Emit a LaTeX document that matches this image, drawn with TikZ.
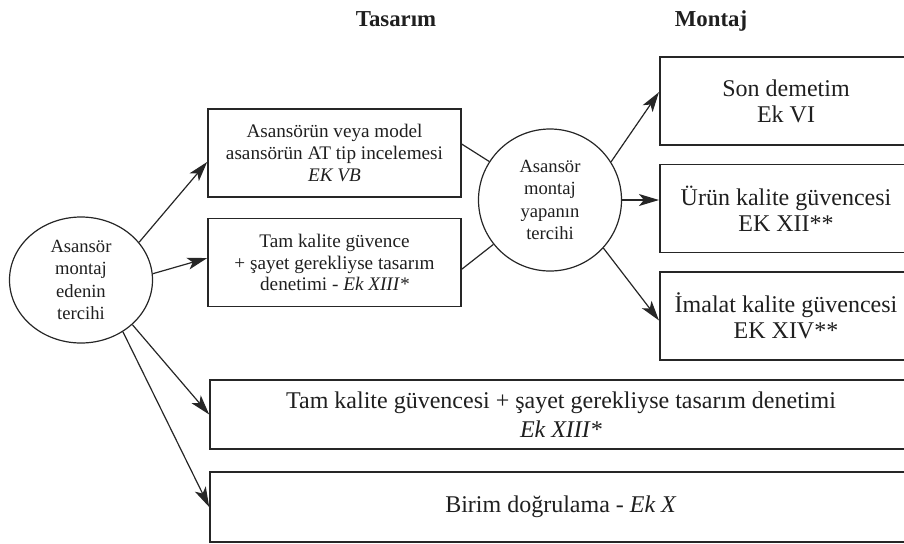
\documentclass[tikz,border=0pt]{standalone}
\usepackage{fontspec}
\setmainfont{Liberation Serif}
\usetikzlibrary{arrows.meta,shapes.geometric}

\begin{document}
\begin{tikzpicture}[x=0.5pt,y=-0.5pt,>={Stealth[length=10pt,width=6pt,inset=2.5pt]},
  every node/.style={text=black!88},
  choice/.style={draw=black!85,ellipse,line width=0.6pt,inner sep=0pt,minimum width=71.5pt,align=center,font=\fontsize{9.3}{11.3}\selectfont},
  leftbox/.style={draw=black!85,line width=0.8pt,inner sep=0pt,minimum width=126.5pt,minimum height=44pt,align=center,font=\fontsize{9.6}{10.9}\selectfont},
  rightbox/.style={draw=black!85,line width=0.8pt,inner sep=0pt,minimum width=126.25pt,minimum height=44pt,align=center,font=\fontsize{12}{13}\selectfont},
  widebox/.style={draw=black!85,line width=0.8pt,inner sep=0pt,minimum width=351pt,align=center,font=\fontsize{12}{14.5}\selectfont},
  head/.style={anchor=base,font=\fontsize{11.4}{13}\selectfont\bfseries},
  link/.style={line width=0.6pt,draw=black!85}]
\clip (0,0) rectangle (904,543);
% column titles
\node[head] (tTas) at (396,26) {Tasarım};
\node[head] (tMon) at (711,26) {Montaj};
% choices
\node[choice,minimum height=63pt] (le) at (81,280) {Asansör\\montaj\\edenin\\tercihi};
\node[choice,minimum height=71pt] (me) at (550,200) {Asansör\\montaj\\yapanın\\tercihi};
% design
\node[leftbox] (bA) at (334.5,153) {Asansörün veya model\\asansörün AT tip incelemesi\\\textit{EK VB}};
\node[leftbox] (bB) at (334.5,262.5) {Tam kalite güvence\\+ şayet gerekliyse tasarım\\denetimi - \textit{Ek XIII*}};
% assembly
\node[rightbox] (r1) at (786,101) {Son demetim\\Ek VI};
\node[rightbox] (r2) at (786,208.5) {Ürün kalite güvencesi\\EK XII**};
\node[rightbox] (r3) at (786,316) {İmalat kalite güvencesi\\EK XIV**};
% full
\node[widebox,minimum height=34.5pt] (w1) at (561,414.5) {Tam kalite güvencesi + şayet gerekliyse tasarım denetimi\\\textit{Ek XIII*}};
\node[widebox,minimum height=35pt] (w2) at (561,507) {Birim doğrulama - \textit{Ek X}};
% connectors
\draw[link,->] (le.33) -- (bA.184);
\draw[link,->] (le.5) -- (bB.178);
\draw[link,->] (le.-41) -- (w1.west);
\draw[link,->] (le.-51) -- (w2.west);
\draw[link] (bA.4) -- (me);
\draw[link] (bB.-3) -- (me);
\draw[link,->] (me.32) -- (r1.176);
\draw[link,->] (me.east) -- (me.east -| r2.west);
\draw[link,->] (me.-42) -- (r3.182);
\end{tikzpicture}
\end{document}
